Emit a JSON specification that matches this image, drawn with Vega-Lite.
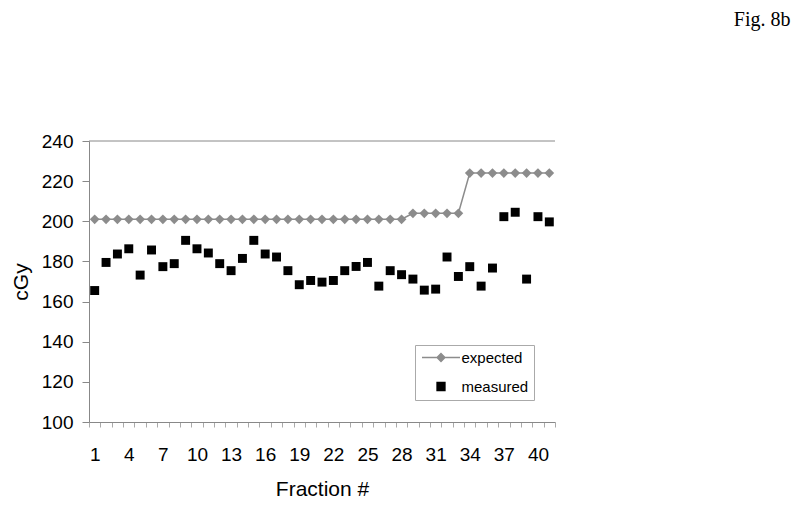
{
  "$schema": "https://vega.github.io/schema/vega-lite/v6.json",
  "width": 466,
  "height": 281,
  "autosize": {"type": "none"},
  "padding": {"left": 89, "top": 141, "right": 245, "bottom": 85},
  "background": "white",
  "title": {"text": "Fig. 8b", "anchor": "end", "font": "Liberation Serif", "fontSize": 20, "fontWeight": "normal", "color": "black", "dx": 235, "offset": 102},
  "config": {"view": {"stroke": null}, "font": "Liberation Sans"},
  "data": {"values": [
    {"fraction": 1, "expected": 201, "measured": 165.5},
    {"fraction": 2, "expected": 201, "measured": 179.5},
    {"fraction": 3, "expected": 201, "measured": 183.7},
    {"fraction": 4, "expected": 201, "measured": 186.3},
    {"fraction": 5, "expected": 201, "measured": 173.2},
    {"fraction": 6, "expected": 201, "measured": 185.7},
    {"fraction": 7, "expected": 201, "measured": 177.4},
    {"fraction": 8, "expected": 201, "measured": 178.9},
    {"fraction": 9, "expected": 201, "measured": 190.5},
    {"fraction": 10, "expected": 201, "measured": 186.3},
    {"fraction": 11, "expected": 201, "measured": 184.2},
    {"fraction": 12, "expected": 201, "measured": 178.9},
    {"fraction": 13, "expected": 201, "measured": 175.4},
    {"fraction": 14, "expected": 201, "measured": 181.5},
    {"fraction": 15, "expected": 201, "measured": 190.5},
    {"fraction": 16, "expected": 201, "measured": 183.7},
    {"fraction": 17, "expected": 201, "measured": 182.2},
    {"fraction": 18, "expected": 201, "measured": 175.4},
    {"fraction": 19, "expected": 201, "measured": 168.4},
    {"fraction": 20, "expected": 201, "measured": 170.5},
    {"fraction": 21, "expected": 201, "measured": 169.7},
    {"fraction": 22, "expected": 201, "measured": 170.5},
    {"fraction": 23, "expected": 201, "measured": 175.4},
    {"fraction": 24, "expected": 201, "measured": 177.5},
    {"fraction": 25, "expected": 201, "measured": 179.5},
    {"fraction": 26, "expected": 201, "measured": 167.7},
    {"fraction": 27, "expected": 201, "measured": 175.4},
    {"fraction": 28, "expected": 201, "measured": 173.4},
    {"fraction": 29, "expected": 204, "measured": 171.2},
    {"fraction": 30, "expected": 204, "measured": 165.7},
    {"fraction": 31, "expected": 204, "measured": 166.2},
    {"fraction": 32, "expected": 204, "measured": 182.2},
    {"fraction": 33, "expected": 204, "measured": 172.5},
    {"fraction": 34, "expected": 224, "measured": 177.4},
    {"fraction": 35, "expected": 224, "measured": 167.7},
    {"fraction": 36, "expected": 224, "measured": 176.7},
    {"fraction": 37, "expected": 224, "measured": 202.3},
    {"fraction": 38, "expected": 224, "measured": 204.5},
    {"fraction": 39, "expected": 224, "measured": 171.2},
    {"fraction": 40, "expected": 224, "measured": 202.3},
    {"fraction": 41, "expected": 224, "measured": 199.7}
  ]},
  "encoding": {
    "x": {
      "field": "fraction", "type": "ordinal",
      "scale": {"paddingInner": 0, "paddingOuter": 0},
      "axis": {
        "title": "Fraction #", "labelAngle": 0, "tickBand": "extent",
        "labelExpr": "(datum.value - 1) % 3 === 0 ? datum.label : ''",
        "labelOverlap": false, "domainColor": "#888888", "tickColor": "#aaaaaa", "tickSize": 5,
        "labelFont": "Liberation Sans", "labelFontSize": 19, "labelPadding": 18, "labelColor": "black",
        "titleFont": "Liberation Sans", "titleFontSize": 21, "titleFontWeight": "normal", "titlePadding": 14, "titleColor": "black"
      }
    }
  },
  "layer": [
    {
      "data": {"values": [{"top": 240}]},
      "mark": {"type": "rule", "color": "#888888", "strokeWidth": 1},
      "encoding": {
        "x": null,
        "y": {"field": "top", "type": "quantitative", "title": "cGy"}
      }
    },
    {
      "mark": {"type": "line", "strokeWidth": 1.5},
      "encoding": {
        "y": {
          "field": "expected", "type": "quantitative", "title": "cGy",
          "scale": {"domain": [100, 240], "nice": false, "zero": false},
          "axis": {
            "values": [100, 120, 140, 160, 180, 200, 220, 240], "grid": false,
            "domainColor": "#888888", "tickColor": "#888888", "tickSize": 7, "labelPadding": 9,
            "labelFont": "Liberation Sans", "labelFontSize": 19, "labelColor": "black",
            "titleFont": "Liberation Sans", "titleFontSize": 21, "titleFontWeight": "normal", "titlePadding": 10, "titleColor": "black"
          }
        },
        "color": {
          "datum": "expected",
          "scale": {"domain": ["expected", "measured"], "range": ["#8c8c8c", "#000000"]},
          "legend": {
            "title": null, "orient": "none", "legendX": 326, "legendY": 204,
            "strokeColor": "#aaaaaa", "padding": 5, "rowPadding": 13,
            "labelFont": "Liberation Sans", "labelFontSize": 15, "labelColor": "black",
            "symbolSize": 64, "symbolOffset": 13.5, "labelOffset": 13,
            "encode": {
              "symbols": {
                "update": {
                  "shape": {"signal": "datum.value === 'expected' ? 'M-4.75,0H4.75M0,-1L1,0L0,1L-1,0Z' : 'M-1,-1H1V1H-1Z'"},
                  "fill": {"signal": "datum.value === 'expected' ? '#8c8c8c' : '#000000'"},
                  "stroke": {"signal": "datum.value === 'expected' ? '#8c8c8c' : '#000000'"},
                  "strokeWidth": {"value": 1.3},
                  "opacity": {"value": 1},
                  "fillOpacity": {"value": 1}
                }
              }
            }
          }
        }
      }
    },
    {
      "mark": {"type": "point", "shape": "diamond", "filled": true, "size": 95, "opacity": 1},
      "encoding": {
        "y": {"field": "expected", "type": "quantitative", "title": "cGy"},
        "color": {"datum": "expected"}
      }
    },
    {
      "mark": {"type": "square", "size": 80, "opacity": 1},
      "encoding": {
        "y": {"field": "measured", "type": "quantitative", "title": "cGy"},
        "color": {"datum": "measured"}
      }
    }
  ]
}
